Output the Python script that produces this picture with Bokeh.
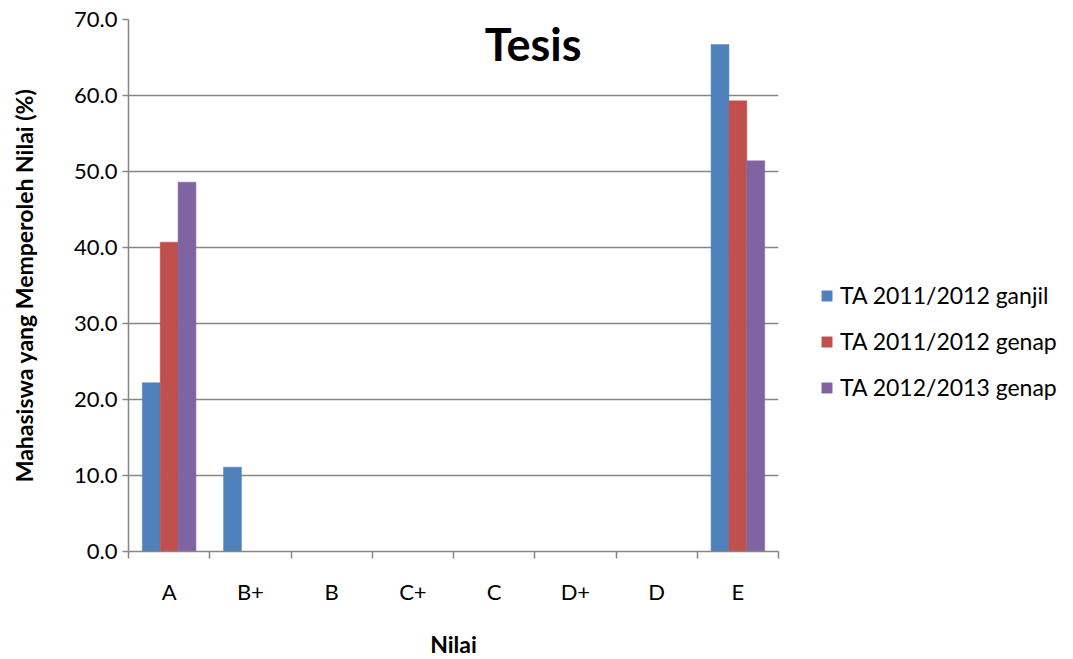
from bokeh.plotting import figure
from bokeh.models import (ColumnDataSource, Range1d, LinearAxis, FixedTicker, Legend,
                          LegendItem, Label, NumeralTickFormatter)
from bokeh.embed import file_html
from bokeh.resources import INLINE

categories = ["A", "B+", "B", "C+", "C", "D+", "D", "E"]
series_names = ["TA 2011/2012 ganjil", "TA 2011/2012 genap", "TA 2012/2013 genap"]
ganjil_2011 = [22.2, 11.1, 0, 0, 0, 0, 0, 66.7]
genap_2011 = [40.7, 0, 0, 0, 0, 0, 0, 59.3]
genap_2012 = [48.6, 0, 0, 0, 0, 0, 0, 51.4]
y_ticks = [0, 10, 20, 30, 40, 50, 60, 70]

colors = ["#4F81BD", "#C0504D", "#8064A2"]
FONT = "Lato"
GRAY = "#868686"

n = len(categories)
centers = [i + 0.5 for i in range(n)]
bounds = list(range(n + 1))

p = figure(x_range=Range1d(0, n), y_range=Range1d(0, 70), frame_width=650, frame_height=532,
           output_backend="svg", toolbar_location=None, x_axis_location=None,
           min_border_left=128, min_border_right=10, min_border_top=19, min_border_bottom=10)
p.outline_line_color = None
p.xgrid.grid_line_color = None
p.ygrid.grid_line_color = GRAY
p.ygrid.grid_line_width = 1.5
p.ygrid.ticker = FixedTicker(ticks=y_ticks)

offsets = [-0.22, 0.0, 0.22]
renderers = []
for i, vals in enumerate([ganjil_2011, genap_2011, genap_2012]):
    src = ColumnDataSource(dict(x=[c + offsets[i] for c in centers], top=vals, cat=categories))
    r = p.vbar(x="x", top="top", width=0.22, bottom=0, source=src,
               fill_color=colors[i], line_color=colors[i], line_width=0.5)
    renderers.append(r)

# y axis
ya = p.yaxis[0]
ya.ticker = FixedTicker(ticks=y_ticks)
ya.formatter = NumeralTickFormatter(format="0.0")
ya.axis_line_color = GRAY
ya.axis_line_width = 1.5
ya.major_tick_line_color = GRAY
ya.major_tick_line_width = 1.5
ya.major_tick_out = 6
ya.major_tick_in = 0
ya.minor_tick_line_color = None
ya.major_label_text_font = FONT
ya.major_label_text_font_size = "22px"
ya.major_label_text_color = "#000000"
ya.major_label_standoff = 5
ya.axis_label = "Mahasiswa yang Memperoleh Nilai (%)"
ya.axis_label_text_font = FONT
ya.axis_label_text_font_size = "23px"
ya.axis_label_text_font_style = "bold"
ya.axis_label_text_color = "#000000"
ya.axis_label_standoff = 33

# x axis with ticks at category boundaries
xa = LinearAxis(ticker=FixedTicker(ticks=centers, minor_ticks=bounds),
                major_label_overrides={c: lab for c, lab in zip(centers, categories)})
xa.axis_line_color = GRAY
xa.axis_line_width = 1.5
xa.major_tick_line_color = None
xa.minor_tick_line_color = GRAY
xa.minor_tick_line_width = 1.5
xa.minor_tick_out = 7
xa.minor_tick_in = 0
xa.major_tick_out = 0
xa.major_tick_in = 0
xa.major_label_text_font = FONT
xa.major_label_text_font_size = "22px"
xa.major_label_text_color = "#000000"
xa.major_label_standoff = 19
xa.axis_label = "Nilai"
xa.axis_label_text_font = FONT
xa.axis_label_text_font_size = "23px"
xa.axis_label_text_font_style = "bold"
xa.axis_label_text_color = "#000000"
xa.axis_label_standoff = 22
p.add_layout(xa, "below")

# title inside plot
title = Label(x=4.98, y=66.8, text="Tesis", text_font=FONT,
              text_font_size="45px", text_font_style="bold", text_color="#000000",
              text_align="center", text_baseline="middle")
p.add_layout(title)

legend = Legend(items=[LegendItem(label=series_names[i], renderers=[renderers[i]]) for i in range(3)],
                location=(42, 150), border_line_color=None, background_fill_alpha=0,
                padding=0, margin=0, glyph_width=13, glyph_height=13, label_height=22,
                label_standoff=7, spacing=18, label_text_font=FONT,
                label_text_font_size="23px", label_text_color="#000000")
p.add_layout(legend, "right")

open("out.html", "w").write(file_html(p, INLINE))
